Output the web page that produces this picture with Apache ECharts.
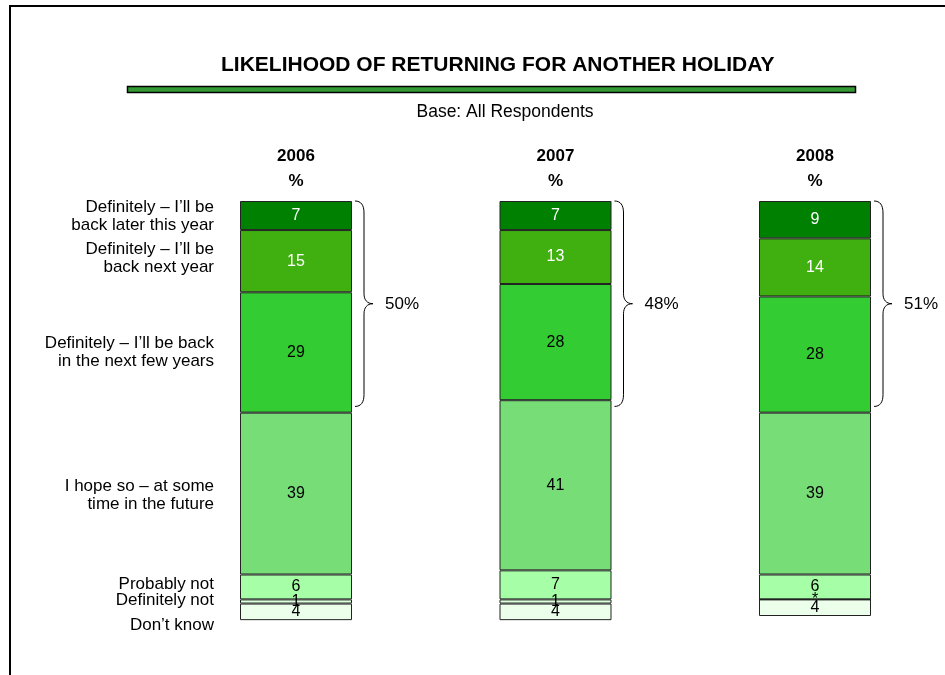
<!DOCTYPE html>
<html><head><meta charset="utf-8">
<script src="https://cdn.jsdelivr.net/npm/echarts@6/dist/echarts.min.js"></script>
<style>html,body{margin:0;padding:0;background:#fff}#c{width:945px;height:675px}</style>
</head><body><div id="c"></div>
<script>
const years = ['2006', '2007', '2008'];
const categories = [
  'Definitely – I’ll be\nback later this year',
  'Definitely – I’ll be\nback next year',
  'Definitely – I’ll be back\nin the next few years',
  'I hope so – at some\ntime in the future',
  'Probably not',
  'Definitely not',
  'Don’t know'
];
const laterThisYear = [7, 7, 9];
const nextYear = [15, 13, 14];
const nextFewYears = [29, 28, 28];
const hopeSo = [39, 41, 39];
const probablyNot = [6, 7, 6];
const definitelyNot = [1, 1, 0];
const dontKnow = [4, 4, 4];
const definitelyTotals = ['50%', '48%', '51%'];

const seriesValues = [laterThisYear, nextYear, nextFewYears, hopeSo, probablyNot, definitelyNot, dontKnow];
const colors = ['#008000', '#40b010', '#33cc33', '#77dd77', '#a6ffa6', '#dcffdc', '#ebffeb'];
const labelColors = ['#ffffff', '#ffffff', '#000', '#000', '#000', '#000', '#000'];
const FONT = '"Liberation Sans", Arial, sans-serif';
const catLabelOffsets = [1, -3, 0, 2, -3, -1, 13];

const maxTotal = 101;
const chart = echarts.init(document.getElementById('c'), null, {renderer: 'canvas'});

const barSeries = seriesValues.map((vals, k) => ({
  type: 'bar',
  name: categories[k],
  stack: 'all',
  barWidth: 112,
  data: vals,
  itemStyle: {color: colors[k], borderColor: '#222', borderWidth: 1},
  label: {
    show: true, position: 'inside', color: labelColors[k],
    fontFamily: FONT, fontSize: 16,
    formatter: p => (p.value === 0 ? '*' : String(p.value))
  },
  emphasis: {disabled: true},
  silent: true,
  z: 2
}));

// category labels placed at the 2006 segment midpoints
let cum = 0;
const catPoints = seriesValues.map((vals, k) => {
  const mid = cum + vals[0] / 2;
  cum += vals[0];
  return {
    value: [0, mid],
    label: {offset: [0, catLabelOffsets[k]], formatter: categories[k]}
  };
});

const labelSeries = {
  type: 'scatter',
  symbolSize: 0,
  silent: true,
  data: catPoints,
  itemStyle: {color: '#000', opacity: 1},
  label: {
    show: true, position: 'left', distance: 82, align: 'right',
    color: '#000', fontFamily: FONT, fontSize: 17, lineHeight: 18
  },
  emphasis: {disabled: true},
  z: 3
};

const plotTop = 201;
const pxPerUnit = 4.15;

chart.setOption({
  animation: false,
  backgroundColor: '#fff',
  textStyle: {fontFamily: FONT},
  title: {
    text: 'LIKELIHOOD OF RETURNING FOR ANOTHER HOLIDAY',
    left: 216, top: 50,
    textStyle: {fontFamily: FONT, fontSize: 21, fontWeight: 'bold', color: '#000'}
  },
  grid: {left: 166.25, top: plotTop, width: 778.5, height: pxPerUnit * maxTotal, outerBoundsMode: 'none', containLabel: false},
  xAxis: {
    type: 'category', data: years, position: 'top',
    axisLine: {show: false}, axisTick: {show: false}, splitLine: {show: false},
    axisLabel: {
      margin: 7, fontFamily: FONT, fontSize: 17, fontWeight: 'bold', color: '#000', lineHeight: 25,
      formatter: v => v + '\n%'
    }
  },
  yAxis: {
    type: 'value', inverse: true, min: 0, max: maxTotal, show: false,
    splitLine: {show: false}
  },
  series: [...barSeries, labelSeries]
});

function drawDecor() {
  const g = [];
  const ln = {stroke: '#000', lineWidth: 1, fill: 'none'};
  // frame
  g.push({type: 'line', shape: {x1: 9, y1: 6, x2: 945, y2: 6}, style: {stroke: '#000', lineWidth: 2}});
  g.push({type: 'line', shape: {x1: 10, y1: 5, x2: 10, y2: 675}, style: {stroke: '#000', lineWidth: 2}});
  // green rule under the title
  g.push({type: 'rect', shape: {x: 127.5, y: 86.5, width: 728, height: 6}, style: {fill: '#339933', stroke: '#000', lineWidth: 1.5}});
  g.push({type: 'text', x: 505, y: 112, style: {text: 'Base: All Respondents', font: '17.5px ' + FONT, fill: '#000', align: 'center', verticalAlign: 'middle'}});
  years.forEach((y, i) => {
    const top = chart.convertToPixel({gridIndex: 0}, [i, 0]);
    const bot = chart.convertToPixel({gridIndex: 0}, [i, 49.5]);
    const x0 = top[0] + 59, yT = top[1], yB = bot[1], ym = (yT + yB) / 2;
    const xm = x0 + 9, xt = x0 + 18;
    g.push({type: 'bezierCurve', shape: {x1: x0, y1: yT, cpx1: x0 + 6, cpy1: yT, cpx2: xm, cpy2: yT + 4, x2: xm, y2: yT + 12}, style: ln});
    g.push({type: 'line', shape: {x1: xm, y1: yT + 12, x2: xm, y2: ym - 10}, style: ln});
    g.push({type: 'bezierCurve', shape: {x1: xm, y1: ym - 10, cpx1: xm, cpy1: ym - 4, cpx2: x0 + 12, cpy2: ym, x2: xt, y2: ym}, style: ln});
    g.push({type: 'bezierCurve', shape: {x1: xt, y1: ym, cpx1: x0 + 12, cpy1: ym, cpx2: xm, cpy2: ym + 4, x2: xm, y2: ym + 10}, style: ln});
    g.push({type: 'line', shape: {x1: xm, y1: ym + 10, x2: xm, y2: yB - 12}, style: ln});
    g.push({type: 'bezierCurve', shape: {x1: xm, y1: yB - 12, cpx1: xm, cpy1: yB - 4, cpx2: x0 + 6, cpy2: yB, x2: x0, y2: yB}, style: ln});
    g.push({type: 'text', x: x0 + 30, y: ym + 1, style: {text: definitelyTotals[i], font: '17px ' + FONT, fill: '#000', align: 'left', verticalAlign: 'middle'}});
  });
  chart.setOption({graphic: g});
}
drawDecor();
</script>
</body></html>
